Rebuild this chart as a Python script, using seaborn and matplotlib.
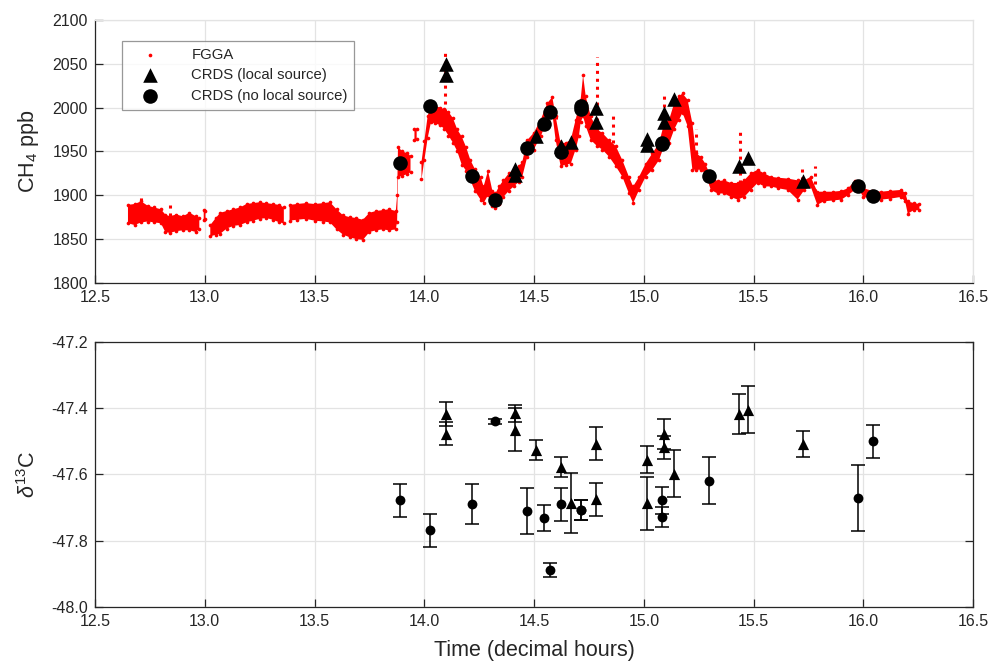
import numpy as np
import matplotlib
matplotlib.use("Agg")
import matplotlib.pyplot as plt
import seaborn as sns

nan = np.nan

# FGGA CH4 trace: time (decimal hours), lower and upper edge of the point cloud (ppb)
fgga_t = [12.65, 12.68, 12.71, 12.74, 12.77, 12.80, 12.82, 12.84, 12.87, 12.90, 12.93, 12.96, 12.975,
          12.985, 12.995, 13.003, 13.01,
          13.025, 13.05, 13.07, 13.10, 13.13, 13.16, 13.19, 13.22, 13.25, 13.28, 13.31, 13.34, 13.36,
          13.373,
          13.386, 13.42, 13.46, 13.50, 13.54, 13.57, 13.60, 13.63, 13.66, 13.69, 13.72, 13.75, 13.78,
          13.81, 13.84, 13.87, 13.876, 13.88, 13.90, 13.92, 13.937,
          13.947, 13.955, 13.965, 13.975,
          13.987, 14.00, 14.015, 14.03, 14.05, 14.07, 14.09, 14.11, 14.13, 14.15, 14.17, 14.19, 14.21,
          14.23, 14.256, 14.27, 14.29, 14.31, 14.324, 14.34, 14.36, 14.385, 14.407, 14.43, 14.446,
          14.469, 14.498, 14.53, 14.56, 14.583, 14.598, 14.621, 14.645, 14.667, 14.689, 14.704, 14.712,
          14.723, 14.735, 14.758, 14.787, 14.811, 14.841, 14.872, 14.902, 14.932, 14.951, 14.978,
          15.008, 15.039, 15.069, 15.092, 15.115, 15.138, 15.16, 15.176, 15.199, 15.221, 15.237,
          15.259, 15.28, 15.305, 15.336, 15.366, 15.396, 15.427, 15.457, 15.487, 15.518, 15.548,
          15.579, 15.61, 15.655, 15.70, 15.731, 15.76, 15.79, 15.82, 15.86, 15.90, 15.93, 15.96,
          15.98, 16.00, 16.04, 16.08, 16.12, 16.17, 16.19, 16.202, 16.23, 16.255]
fgga_lo = [1868, 1866, 1869, 1870, 1869, 1868, 1858, 1857, 1859, 1860, 1860, 1858, 1862,
           nan, 1872, 1873, nan,
           1853, 1855, 1856, 1862, 1865, 1866, 1869, 1871, 1873, 1874, 1872, 1869, 1868,
           nan,
           1871, 1872, 1873, 1871, 1870, 1869, 1861, 1855, 1852, 1850, 1849, 1858, 1860,
           1861, 1860, 1861, 1870, 1921, 1922, 1924, 1926,
           nan, 1963, 1964, nan,
           1918, 1940, 1965, 1983, 1982, 1980, 1976, 1968, 1960, 1950, 1935, 1928, 1917,
           1905, 1895, 1891, 1900, 1888, 1885, 1890, 1898, 1905, 1910, 1915, 1921,
           1944, 1952, 1967, 1986, 1993, 1963, 1933, 1935, 1936, 1952, 1967, 1983,
           1990, 1979, 1963, 1956, 1952, 1944, 1933, 1921, 1902, 1891, 1906,
           1921, 1929, 1940, 1956, 1959, 1975, 1986, 1994, 1979, 1929, 1929,
           1929, 1925, 1906, 1902, 1902, 1898, 1895, 1898, 1906, 1914, 1910,
           1910, 1908, 1906, 1895, 1906, 1910, 1889, 1893, 1894, 1895, 1900, 1906,
           1906, 1898, 1896, 1895, 1896, 1898, 1893, 1879, 1883, 1883]
fgga_hi = [1889, 1890, 1893, 1888, 1886, 1884, 1878, 1876, 1878, 1876, 1880, 1876, 1874,
           nan, 1883, 1882, nan,
           1866, 1874, 1880, 1882, 1884, 1886, 1890, 1891, 1892, 1891, 1890, 1889, 1886,
           nan,
           1889, 1890, 1891, 1890, 1891, 1892, 1884, 1877, 1875, 1874, 1872, 1880, 1882,
           1883, 1884, 1882, 1900, 1955, 1950, 1948, 1945,
           nan, 1976, 1975, nan,
           1938, 1962, 1990, 2003, 2002, 2000, 1998, 1995, 1988, 1975, 1967, 1955, 1940,
           1930, 1921, 1910, 1928, 1905, 1902, 1910, 1917, 1925, 1929, 1933, 1938,
           1963, 1971, 1986, 2005, 2012, 1990, 1959, 1960, 1963, 1986, 2001, 2009,
           2037, 2013, 1990, 1975, 1971, 1963, 1956, 1940, 1921, 1910, 1921,
           1936, 1948, 1959, 1982, 1986, 2005, 2013, 2016, 2009, 1982, 1948,
           1944, 1936, 1921, 1916, 1917, 1914, 1914, 1917, 1925, 1929, 1925,
           1921, 1920, 1919, 1917, 1917, 1921, 1904, 1904, 1904, 1905, 1908, 1916,
           1914, 1908, 1905, 1904, 1905, 1906, 1903, 1893, 1891, 1890]

# isolated FGGA excursions (sparse columns of points)
spike_t = [12.71, 12.84, 14.096, 14.60, 14.62, 14.787, 14.861, 15.092, 15.237, 15.437, 15.72, 15.78]
spike_lo = [1893, 1876, 1995, 1990, 1959, 1975, 1960, 1982, 1948, 1914, 1917, 1904]
spike_hi = [1898, 1891, 2066, 1985, 1965, 2058, 1990, 2013, 1975, 1975, 1933, 1933]

# CRDS, local source (triangles)
local_t = [14.10, 14.10, 14.414, 14.414, 14.51, 14.622, 14.669, 14.783, 14.783, 15.016, 15.016,
           15.092, 15.092, 15.138, 15.434, 15.475, 15.725]
local_ch4 = [2050, 2037, 1930, 1923, 1967, 1956, 1961, 1999, 1984, 1964, 1957,
             1994, 1984, 2010, 1933, 1943, 1916]
local_d13c = [-47.418, -47.477, -47.416, -47.465, -47.526, -47.579, -47.687, -47.508, -47.676,
              -47.556, -47.687, -47.478, -47.518, -47.598, -47.417, -47.405, -47.508]
local_err = [0.036, 0.034, 0.025, 0.065, 0.03, 0.03, 0.09, 0.05, 0.05,
             0.04, 0.08, 0.045, 0.035, 0.07, 0.06, 0.07, 0.04]

# CRDS, no local source (circles)
nolocal_t = [13.891, 14.028, 14.215, 14.323, 14.469, 14.543, 14.574, 14.622, 14.712, 14.712,
             15.081, 15.081, 15.297, 15.974, 16.045]
nolocal_ch4 = [1937, 2002, 1922, 1895, 1954, 1981, 1995, 1949, 2002, 1998,
               1960, 1958, 1922, 1911, 1899]
nolocal_d13c = [-47.679, -47.769, -47.69, -47.44, -47.71, -47.732, -47.889, -47.691, -47.708,
                -47.708, -47.679, -47.73, -47.619, -47.672, -47.50]
nolocal_err = [0.05, 0.05, 0.06, 0.007, 0.07, 0.04, 0.02, 0.05, 0.03,
               0.03, 0.04, 0.03, 0.07, 0.1, 0.05]

sns.set_style("white")
plt.rcParams["font.family"] = ["Liberation Sans", "DejaVu Sans"]
plt.rcParams["mathtext.fontset"] = "custom"
plt.rcParams["mathtext.rm"] = "Liberation Sans"
plt.rcParams["mathtext.it"] = "Liberation Sans:italic"

dark = "#262626"
grid = "#e3e3e3"

fig = plt.figure(figsize=(9.9, 6.61), dpi=100)
ax1 = fig.add_axes([0.096, 0.572, 0.887, 0.398])
ax2 = fig.add_axes([0.096, 0.082, 0.887, 0.401])

# ---- top panel: CH4 ----
ax1.fill_between(fgga_t, fgga_lo, fgga_hi, color="red", linewidth=0, zorder=2)
ax1.vlines(spike_t, spike_lo, spike_hi, colors="red", linewidth=2.2,
           linestyles=(0, (1, 1.6)), zorder=2)
edge_t = fgga_t + fgga_t
edge_v = fgga_lo + fgga_hi
sns.scatterplot(x=edge_t, y=edge_v, ax=ax1, color="red", s=7, linewidth=0,
                label="FGGA", zorder=2)
sns.scatterplot(x=local_t, y=local_ch4, ax=ax1, color="black", marker="^", s=110,
                linewidth=0, label="CRDS (local source)", zorder=3)
sns.scatterplot(x=nolocal_t, y=nolocal_ch4, ax=ax1, color="black", marker="o", s=110,
                linewidth=0, label="CRDS (no local source)", zorder=3)

ax1.set_xlim(12.5, 16.5)
ax1.set_ylim(1800, 2100)
ax1.set_yticks(np.arange(1800, 2101, 50))
ax1.set_ylabel("CH$_4$ ppb", fontsize=15.5, color=dark, labelpad=8)

leg = ax1.legend(loc="upper left", bbox_to_anchor=(0.031, 0.92), borderaxespad=0,
                 fontsize=10.7, frameon=True, fancybox=False, handletextpad=1.4,
                 borderpad=0.45, labelspacing=0.45, handlelength=2.8)
leg.get_frame().set_edgecolor("#7f7f7f")
leg.get_frame().set_linewidth(0.9)
for txt in leg.get_texts():
    txt.set_color(dark)

# ---- bottom panel: d13C ----
ax2.errorbar(local_t, local_d13c, yerr=local_err, fmt="none", ecolor="black",
             elinewidth=1.1, capsize=5, capthick=1.1, zorder=2)
ax2.errorbar(nolocal_t, nolocal_d13c, yerr=nolocal_err, fmt="none", ecolor="black",
             elinewidth=1.1, capsize=5, capthick=1.1, zorder=2)
sns.scatterplot(x=local_t, y=local_d13c, ax=ax2, color="black", marker="^", s=65,
                linewidth=0, zorder=3)
sns.scatterplot(x=nolocal_t, y=nolocal_d13c, ax=ax2, color="black", marker="o", s=50,
                linewidth=0, zorder=3)

ax2.set_xlim(12.5, 16.5)
ax2.set_ylim(-48.0, -47.2)
ax2.set_yticks(np.arange(-48.0, -47.19, 0.2))
ax2.set_ylabel(r"$\delta^{13}$C", fontsize=15.5, color=dark, labelpad=8)
ax2.set_xlabel("Time (decimal hours)", fontsize=15.5, color=dark, labelpad=8)

for ax in (ax1, ax2):
    ax.set_xticks(np.arange(12.5, 16.51, 0.5))
    ax.xaxis.set_major_formatter(matplotlib.ticker.FormatStrFormatter("%.1f"))
    ax.yaxis.set_major_formatter(matplotlib.ticker.FormatStrFormatter(
        "%.0f" if ax is ax1 else "%.1f"))
    ax.grid(True, color=grid, linewidth=0.9, zorder=0)
    ax.set_axisbelow(True)
    for sp in ax.spines.values():
        sp.set_color(dark)
        sp.set_linewidth(0.9)
        sp.set_visible(True)

# top panel: only left/bottom axis lines, ticks inward
ax1.tick_params(direction="in", length=6, width=0.9, colors=dark, labelsize=11.5,
                top=False, right=False, bottom=True, left=True, pad=5)
ax1.spines["top"].set_color(grid)
ax1.spines["right"].set_color(grid)

# bottom panel: full box with mirrored ticks
ax2.tick_params(direction="in", length=6, width=0.9, colors=dark, labelsize=11.5,
                top=True, right=True, bottom=True, left=True, pad=5)

fig.savefig("out.png", dpi=100)
